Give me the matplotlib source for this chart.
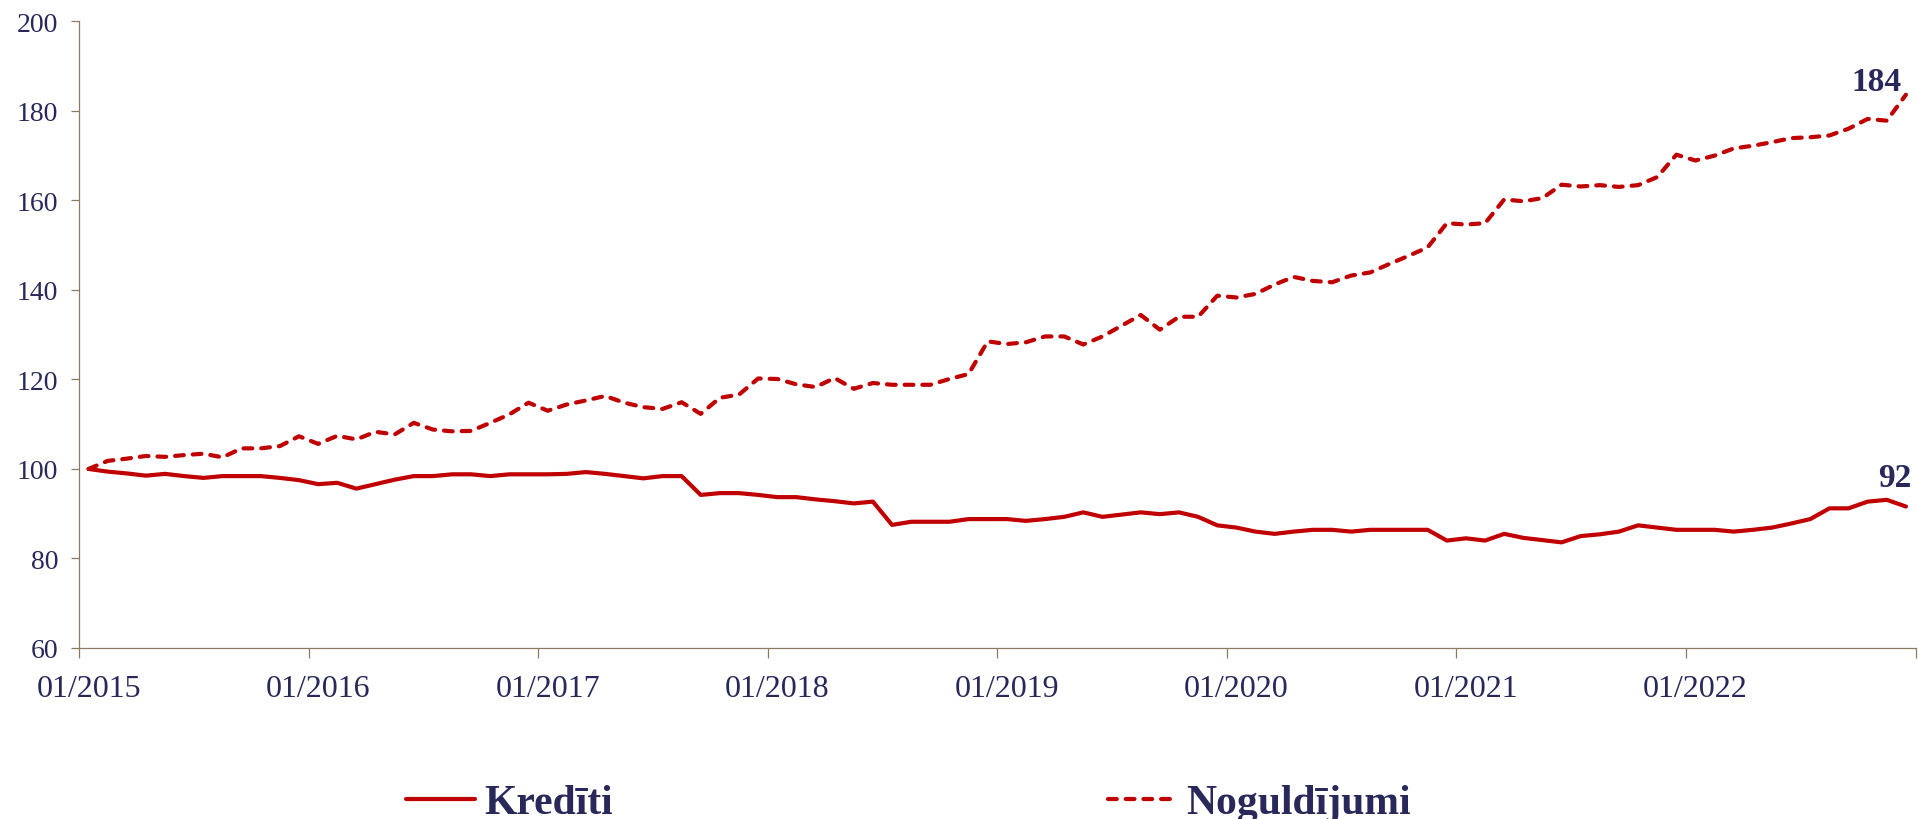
import matplotlib
matplotlib.use("Agg")
import matplotlib.pyplot as plt
from matplotlib.ticker import FixedLocator, FixedFormatter, NullFormatter

# ---------------- data ----------------
years = ["2015", "2016", "2017", "2018", "2019", "2020", "2021", "2022"]
tick_labels = ["01/" + y for y in years]

krediti = [
    100.0, 99.4, 99.0, 98.5, 98.9, 98.4, 98.0, 98.4, 98.4, 98.4, 98.0, 97.5,
    96.6, 96.9, 95.6, 96.6, 97.6, 98.4, 98.4, 98.8, 98.8, 98.4, 98.8, 98.8,
    98.8, 98.9, 99.3, 98.9, 98.4, 97.9, 98.4, 98.4, 94.2, 94.6, 94.6, 94.2,
    93.7, 93.7, 93.2, 92.8, 92.3, 92.7, 87.5, 88.2, 88.2, 88.2, 88.8, 88.8,
    88.8, 88.4, 88.8, 89.3, 90.3, 89.3, 89.8, 90.3, 89.9, 90.3, 89.3, 87.4,
    86.9, 86.0, 85.5, 86.0, 86.4, 86.4, 86.0, 86.4, 86.4, 86.4, 86.4, 84.0,
    84.5, 84.0, 85.5, 84.6, 84.1, 83.6, 85.0, 85.4, 86.0, 87.4, 86.9, 86.4,
    86.4, 86.4, 86.0, 86.4, 86.9, 87.8, 88.8, 91.2, 91.2, 92.7, 93.1, 91.6,
]

noguldijumi = [
    100.0, 101.8, 102.3, 102.9, 102.7, 103.1, 103.4, 102.6, 104.6, 104.6, 105.1, 107.3,
    105.6, 107.4, 106.6, 108.3, 107.7, 110.3, 108.8, 108.4, 108.5, 110.3, 112.2, 114.8,
    113.0, 114.4, 115.3, 116.3, 114.8, 113.8, 113.4, 114.9, 112.3, 115.9, 116.6, 120.2,
    120.1, 118.9, 118.3, 120.3, 117.9, 119.2, 118.8, 118.8, 118.8, 120.1, 121.2, 128.5,
    127.9, 128.3, 129.6, 129.6, 127.8, 129.6, 132.0, 134.4, 131.1, 134.0, 134.0, 138.7,
    138.3, 139.1, 141.2, 142.9, 142.0, 141.7, 143.2, 143.9, 145.8, 147.6, 149.5, 154.9,
    154.6, 154.9, 160.2, 159.8, 160.5, 163.5, 163.1, 163.4, 163.0, 163.4, 165.2, 170.2,
    168.9, 170.0, 171.6, 172.2, 173.0, 173.9, 174.1, 174.5, 176.0, 178.2, 177.8, 183.6,
]

series_names = ["Kredīti", "Noguldījumi"]
end_labels = ["92", "184"]

# ---------------- style ----------------
RED = "#C00000"
NAVY = "#28285A"
AXC = "#8B7B62"
FONT = ["Liberation Serif", "DejaVu Serif"]
plt.rcParams["font.family"] = FONT

fig = plt.figure(figsize=(19.18, 8.20), dpi=100)
ax = fig.add_axes([79 / 1918, 1 - 649 / 820, 1836.5 / 1918, (649 - 22.3) / 820])

x = list(range(len(krediti)))
l1, = ax.plot(x, krediti, color=RED, lw=3.0, solid_joinstyle="round",
              solid_capstyle="round", label=series_names[0])
l2, = ax.plot(x, noguldijumi, color=RED, lw=3.0, dashes=(2.1, 2.15),
              dash_capstyle="round", dash_joinstyle="round", label=series_names[1])

ax.set_xlim(-0.5, len(x) - 0.5)
ax.set_ylim(60, 200)

# y axis
ax.set_yticks(range(60, 201, 20))
ax.tick_params(axis="y", direction="out", length=6.1, width=0.9, color=AXC,
               pad=9, labelsize=20, labelcolor=NAVY)

# x axis: ticks between categories, labels at January
ax.xaxis.set_major_locator(FixedLocator([-0.5 + 12 * k for k in range(9)]))
ax.xaxis.set_major_formatter(NullFormatter())
ax.xaxis.set_minor_locator(FixedLocator([12 * k for k in range(len(tick_labels))]))
ax.xaxis.set_minor_formatter(FixedFormatter(tick_labels))
ax.tick_params(axis="x", which="major", direction="out", length=7.2, width=0.9, color=AXC)
ax.tick_params(axis="x", which="minor", length=0, pad=19, labelsize=23, labelcolor=NAVY)

for s in ["top", "right"]:
    ax.spines[s].set_visible(False)
for s in ["left", "bottom"]:
    ax.spines[s].set_color(AXC)
    ax.spines[s].set_linewidth(0.9)

# end labels
ax.annotate(end_labels[0], xy=(x[-1], krediti[-1]), xytext=(-11, 20.6),
            textcoords="offset pixels", ha="center", va="baseline",
            fontsize=24, fontweight="bold", color=NAVY)
ax.annotate(end_labels[1], xy=(x[-1], noguldijumi[-1]), xytext=(-29, 4.8),
            textcoords="offset pixels", ha="center", va="baseline",
            fontsize=24, fontweight="bold", color=NAVY)

leg = fig.legend(handles=[l1, l2], loc="center", bbox_to_anchor=(0.4737, 0.0195),
                 ncol=2, frameon=False, handlelength=1.65, handletextpad=0.22,
                 columnspacing=11.9, borderpad=0.0,
                 prop={"family": FONT, "size": 30, "weight": "bold"})
for t in leg.get_texts():
    t.set_color(NAVY)

fig.savefig("out.png", dpi=100)
